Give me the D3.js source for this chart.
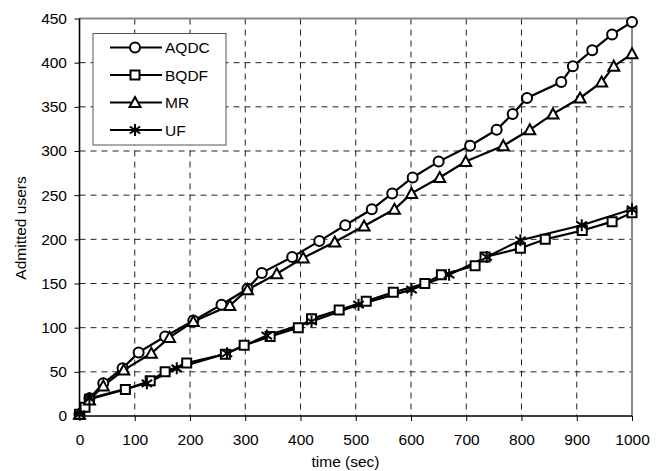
<!DOCTYPE html>
<html>
<head>
<meta charset="utf-8">
<script src="https://cdn.jsdelivr.net/npm/d3@7"></script>
<style>
  body { margin: 0; background: #fff; }
  text { font-family: "Liberation Sans", Arial, sans-serif; }
</style>
</head>
<body>
<div id="chart"></div>
<script>
// data
var aqdcX = [0, 18, 43, 78, 107, 155, 206, 257, 304, 330, 385, 434, 481, 529, 566, 603, 650, 707, 755, 784, 810, 872, 893, 928, 964, 1000];
var aqdcY = [2, 20, 37, 54, 72, 90, 108, 126, 144, 162, 180, 198, 216, 234, 252, 270, 288, 306, 324, 342, 360, 378, 396, 414, 432, 446];

var bqdfX = [0, 10, 18, 83, 128, 155, 194, 264, 298, 345, 396, 420, 470, 519, 568, 625, 655, 716, 734, 798, 843, 910, 964, 1000];
var bqdfY = [2, 10, 19, 30, 40, 50, 60, 70, 80, 90, 100, 110, 120, 130, 140, 150, 160, 170, 180, 190, 200, 210, 220, 230];

var mrX = [0, 18, 43, 80, 130, 163, 206, 272, 304, 357, 405, 462, 515, 570, 601, 652, 699, 767, 815, 857, 906, 945, 967, 1000];
var mrY = [2, 18, 34, 52, 71, 89, 107, 125, 143, 161, 179, 197, 215, 234, 252, 270, 288, 306, 324, 342, 360, 378, 396, 410];

var ufX = [0, 18, 122, 176, 267, 339, 420, 505, 601, 669, 737, 798, 909, 1000];
var ufY = [2, 20, 37, 54, 71, 91, 107, 126, 143, 160, 180, 199, 216, 234];

var seriesNames = ["AQDC", "BQDF", "MR", "UF"];
var xTicks = [0, 100, 200, 300, 400, 500, 600, 700, 800, 900, 1000];
var yTicks = [0, 50, 100, 150, 200, 250, 300, 350, 400, 450];

var svgWidth = 663;
var svgHeight = 471;
var margin = { top: 18.5, right: 31, bottom: 55, left: 79.5 };
var width = svgWidth - margin.left - margin.right;
var height = svgHeight - margin.top - margin.bottom;
var fontSize = 15.5;

var svg = d3.select("#chart").append("svg")
  .attr("width", svgWidth)
  .attr("height", svgHeight);

var g = svg.append("g")
  .attr("transform", `translate(${margin.left},${margin.top})`);

var xScale = d3.scaleLinear().domain([0, 1000]).range([0, width]);
var yScale = d3.scaleLinear().domain([0, 450]).range([height, 0]);

// grid
g.append("g").selectAll("line").data(yTicks.slice(1, -1)).enter().append("line")
  .attr("x1", 0).attr("x2", width)
  .attr("y1", d => yScale(d)).attr("y2", d => yScale(d))
  .attr("stroke", "#222").attr("stroke-width", 1).attr("stroke-dasharray", "6,5");
g.append("g").selectAll("line").data(xTicks.slice(1, -1)).enter().append("line")
  .attr("y1", 0).attr("y2", height)
  .attr("x1", d => xScale(d)).attr("x2", d => xScale(d))
  .attr("stroke", "#222").attr("stroke-width", 1).attr("stroke-dasharray", "6,5");

// plot area border (top / right)
g.append("path")
  .attr("d", `M0,0H${width}V${height}`)
  .attr("fill", "none").attr("stroke", "#888").attr("stroke-width", 2);

// axes
var xAxis = g.append("g").attr("transform", `translate(0,${height})`)
  .call(d3.axisBottom(xScale).tickValues(xTicks).tickSize(5).tickPadding(13).tickFormat(d3.format("d")));
var yAxis = g.append("g")
  .call(d3.axisLeft(yScale).tickValues(yTicks).tickSize(5).tickPadding(7.5).tickFormat(d3.format("d")));
[xAxis, yAxis].forEach(function(a) {
  a.select(".domain").attr("stroke", "#000").attr("stroke-width", 1.6);
  a.selectAll(".tick line").attr("stroke", "#000");
  a.selectAll(".tick text").attr("font-size", fontSize).attr("fill", "#000")
    .style("font-family", "'Liberation Sans', Arial, sans-serif");
});
xAxis.select(".domain").attr("d", `M0,0H${width}`);
yAxis.select(".domain").attr("d", `M0,${height}V0`);

// axis titles
svg.append("text")
  .attr("x", 345.5).attr("y", 466.5)
  .attr("text-anchor", "middle").attr("font-size", fontSize)
  .text("time (sec)");
svg.append("text")
  .attr("transform", "translate(25.5,228) rotate(-90)")
  .attr("text-anchor", "middle").attr("font-size", fontSize)
  .text("Admitted  users");

// markers
function markerPath(type) {
  if (type === "circle") return "M-5,0A5,5 0 1,0 5,0A5,5 0 1,0 -5,0Z";
  if (type === "square") return "M-4.5,-4.5H4.5V4.5H-4.5Z";
  if (type === "triangle") return "M0,-5.5L5.5,4.5H-5.5Z";
  return "M0,-6V6M-5.2,-3.5L5.2,3.5M-5.2,3.5L5.2,-3.5";
}

var series = [
  { name: seriesNames[0], xs: aqdcX, ys: aqdcY, marker: "circle" },
  { name: seriesNames[1], xs: bqdfX, ys: bqdfY, marker: "square" },
  { name: seriesNames[2], xs: mrX, ys: mrY, marker: "triangle" },
  { name: seriesNames[3], xs: ufX, ys: ufY, marker: "star" }
];

var line = d3.line().x(d => xScale(d[0])).y(d => yScale(d[1]));

series.forEach(function(s) {
  var pts = s.xs.map((x, i) => [x, s.ys[i]]);
  g.append("path").datum(pts)
    .attr("d", line)
    .attr("fill", "none").attr("stroke", "#000").attr("stroke-width", 2.2);
});
series.forEach(function(s) {
  var pts = s.xs.map((x, i) => [x, s.ys[i]]);
  g.append("g").selectAll("path").data(pts).enter().append("path")
    .attr("transform", d => `translate(${xScale(d[0])},${yScale(d[1])})`)
    .attr("d", markerPath(s.marker))
    .attr("fill", s.marker === "star" ? "none" : "#fff")
    .attr("stroke", "#000").attr("stroke-width", 2);
});

// legend
var legend = svg.append("g").attr("transform", "translate(93,33.5)");
legend.append("rect")
  .attr("width", 133).attr("height", 111.5)
  .attr("fill", "#fff").attr("stroke", "#555").attr("stroke-width", 1);
series.forEach(function(s, i) {
  var y = 14 + i * 27.5;
  legend.append("line")
    .attr("x1", 17).attr("x2", 69).attr("y1", y).attr("y2", y)
    .attr("stroke", "#000").attr("stroke-width", 2.2);
  legend.append("path")
    .attr("transform", `translate(42,${y})`)
    .attr("d", markerPath(s.marker))
    .attr("fill", s.marker === "star" ? "none" : "#fff")
    .attr("stroke", "#000").attr("stroke-width", 2);
  legend.append("text")
    .attr("x", 72).attr("y", y + 5.5)
    .attr("font-size", fontSize)
    .text(s.name);
});
</script>
</body>
</html>
